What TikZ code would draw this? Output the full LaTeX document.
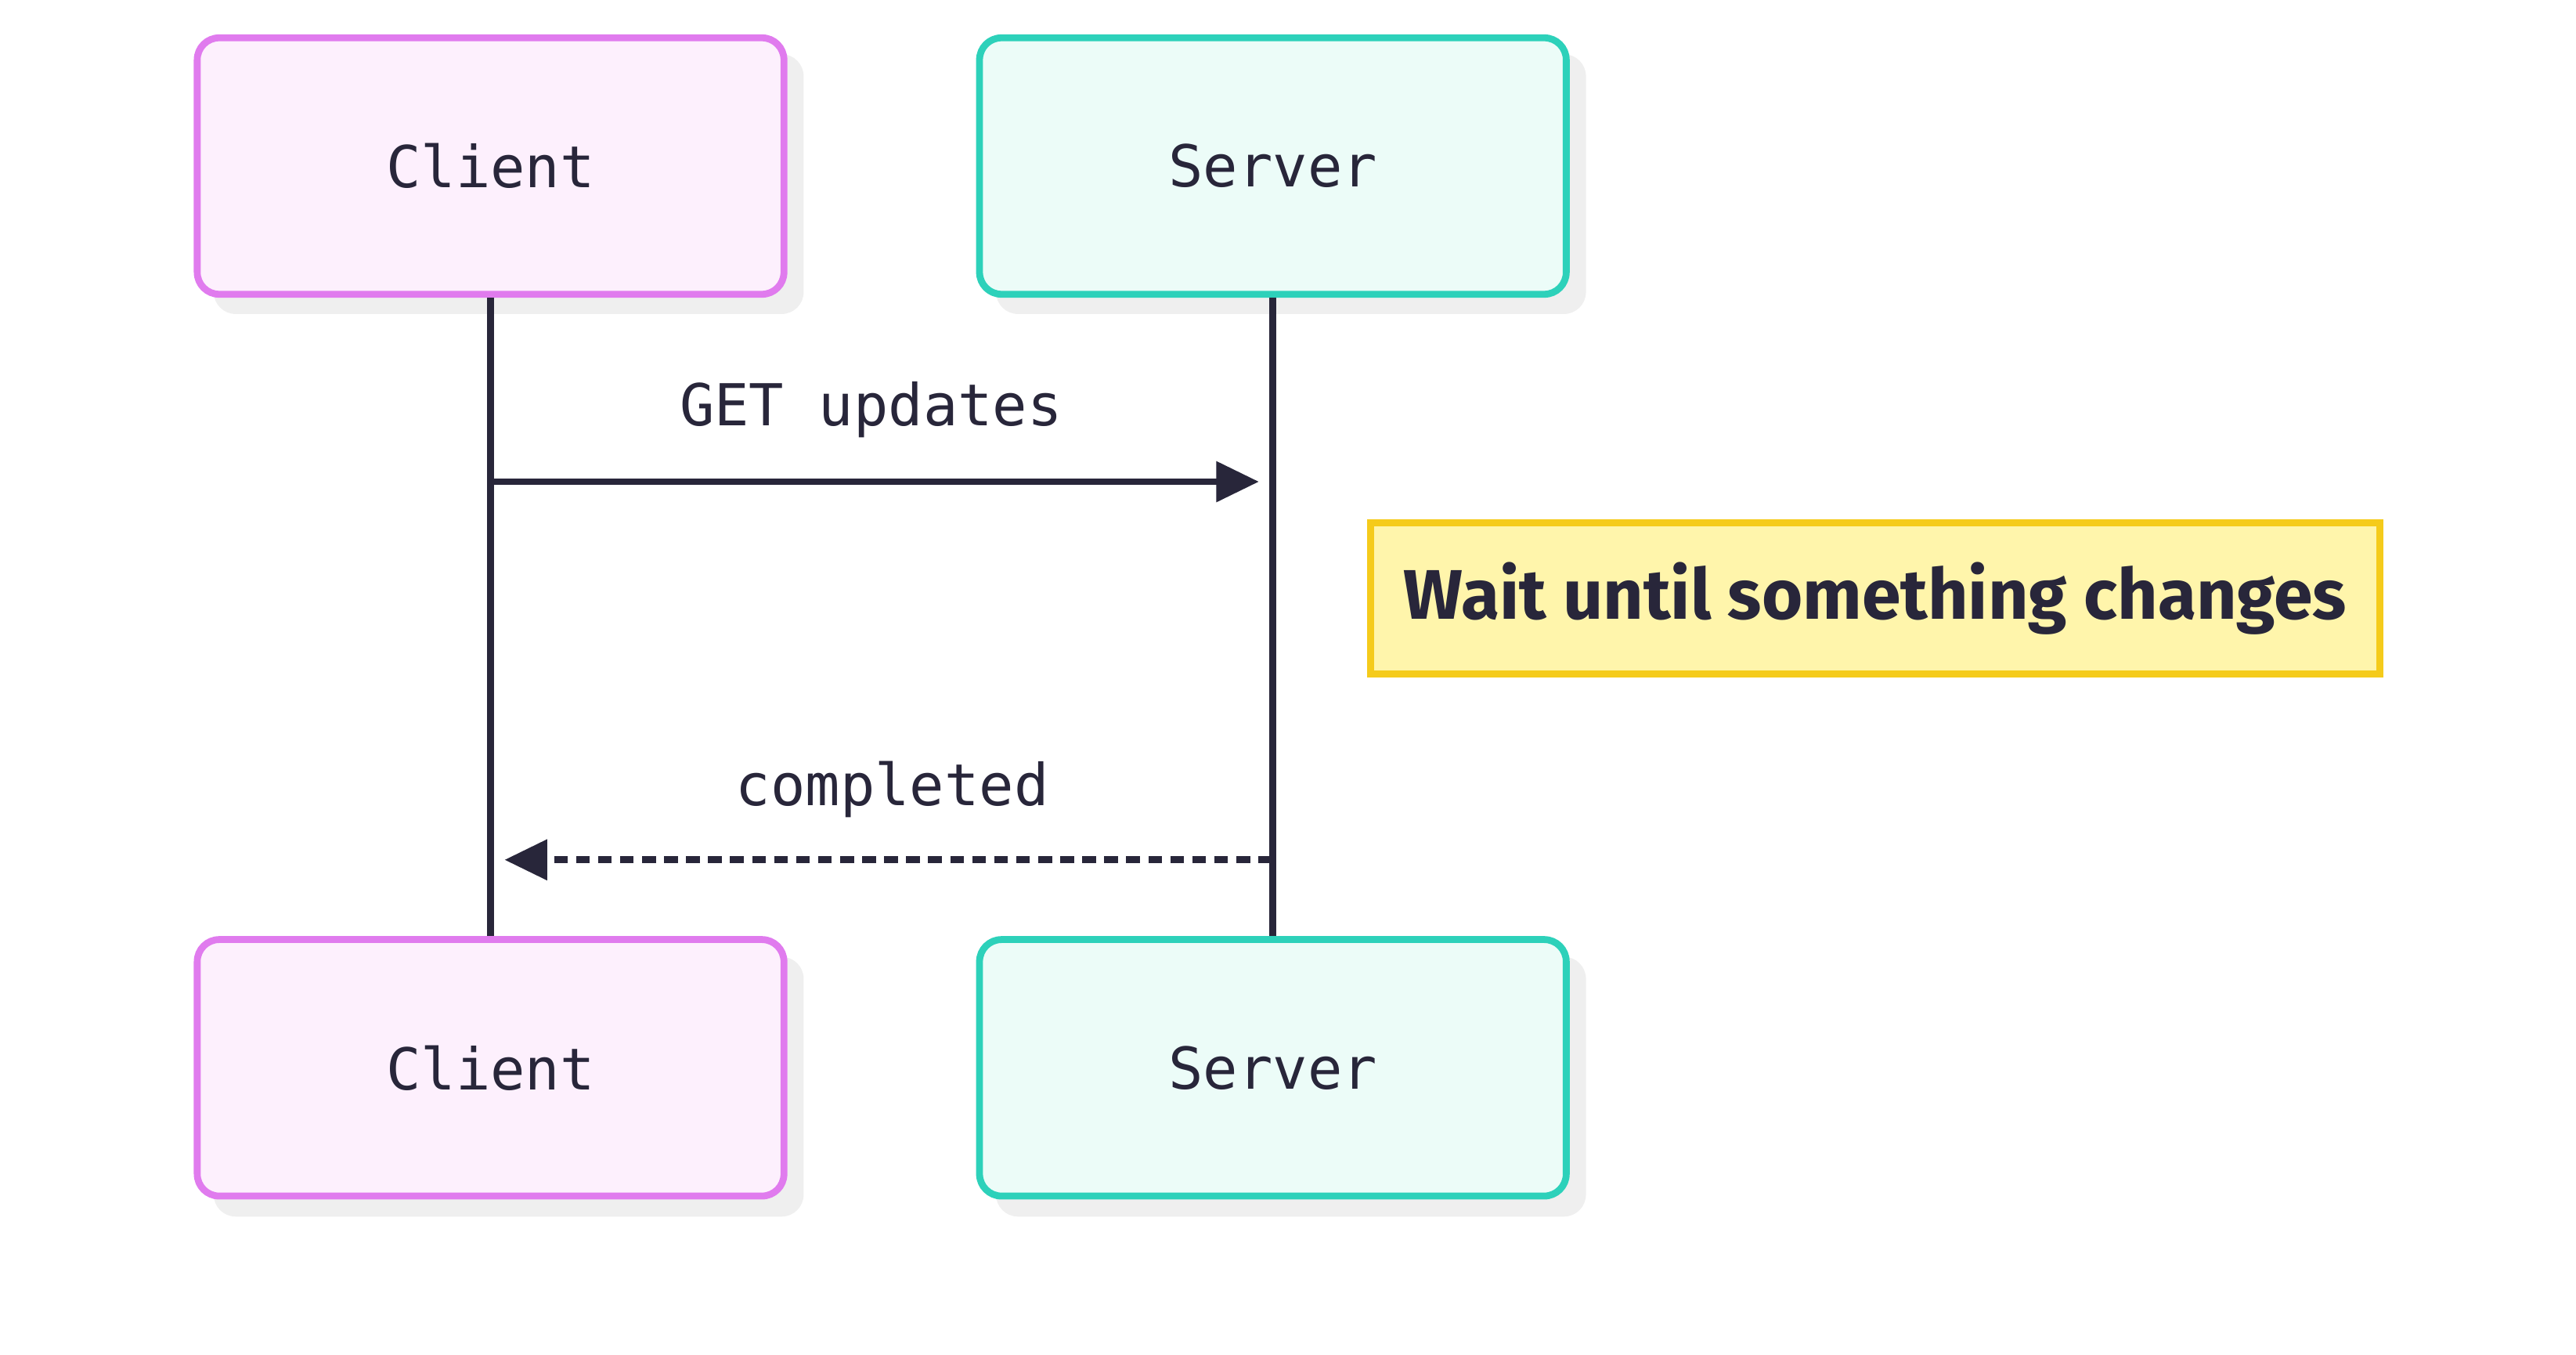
\documentclass[tikz,border=0pt]{standalone}
\usepackage{fontspec}
\setmainfont{Fira Sans}
\newfontfamily\monof{DejaVu Sans Mono}
\usetikzlibrary{arrows.meta}
\definecolor{cpink}{HTML}{E07BEE}
\definecolor{cpinkf}{HTML}{FDF0FD}
\definecolor{cteal}{HTML}{2DD1BA}
\definecolor{ctealf}{HTML}{ECFCF8}
\definecolor{cink}{HTML}{28263A}
\definecolor{cyel}{HTML}{F5CB1B}
\definecolor{cyelf}{HTML}{FFF5AB}
\definecolor{cshad}{HTML}{EFEFEF}
\begin{document}
\begin{tikzpicture}[x=0.02099cm,y=-0.02099cm,
  actor/.style={draw,line width=2.5pt,rounded corners=8pt,minimum width=357*0.02099cm,minimum height=156*0.02099cm,font=\monof\fontsize{21}{24}\selectfont,text=cink},
  shad/.style={fill=cshad,rounded corners=8pt},
  life/.style={cink,line width=2.5pt},
  msg/.style={font=\monof\fontsize{21}{24}\selectfont,text=cink}]
\useasboundingbox (0,0) rectangle (1567.4,824.2);
\foreach \x/\y in {130/33,606/33,130/582,606/582}
  \fill[shad] (\x,\y) rectangle ++(359,158);
\node[actor,draw=cpink,fill=cpinkf] (ct) at (298.5,101) {Client};
\node[actor,draw=cteal,fill=ctealf] (st) at (774.5,101) {Server};
\node[actor,draw=cpink,fill=cpinkf] (cb) at (298.5,649.5) {Client};
\node[actor,draw=cteal,fill=ctealf] (sb) at (774.5,649.5) {Server};
\draw[life] (ct.south) -- (cb.north);
\draw[life] (st.south) -- (sb.north);
\coordinate (g1) at (298,293); \coordinate (g2) at (766,293);
\draw[life,-{Triangle[length=26*0.02099cm,width=24*0.02099cm]}] (g1) -- (g2);
\node[msg] (gl) at (530,249) {GET updates};
\node[draw=cyel,fill=cyelf,line width=2.5pt,minimum width=614*0.02099cm,minimum height=92*0.02099cm,font=\bfseries\fontsize{25.5}{28}\selectfont,text=cink] (note) at (1141,364) {Wait until something changes};
\coordinate (r1) at (774,523); \coordinate (r2) at (307,523);
\draw[life,dash pattern=on 5pt off 3pt,-{Triangle[length=26*0.02099cm,width=24*0.02099cm]}] (r1) -- (r2);
\node[msg] (cl) at (543,480) {completed};
\end{tikzpicture}
\end{document}
